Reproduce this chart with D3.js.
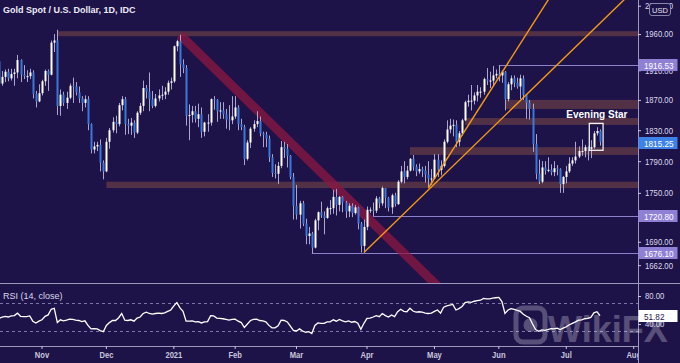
<!DOCTYPE html>
<html>
<head>
<meta charset="utf-8">
<script src="https://cdn.jsdelivr.net/npm/d3@7"></script>
<style>
  body { margin: 0; background: #1e1349; }
  svg { display: block; }
  .axis text { font-family: "Liberation Sans", Arial, sans-serif; }
</style>
</head>
<body>
<div id="chart"></div>
<script>
/* DATA: daily candles [open, high, low, close], one array per month */
const oct2020 = [[1922,1925,1887,1892],[1892,1909,1889,1901],[1901,1911,1894,1908],[1908,1912,1895,1899],[1899,1912,1896,1905],[1905,1912,1889,1907],[1907,1931,1899,1924],[1924,1925,1894,1904],[1904,1917,1898,1902],[1902,1910,1894,1902],[1902,1912,1898,1907],[1907,1910,1872,1878],[1878,1882,1860,1868],[1868,1891,1867,1879]];
const nov2020 = [[1879,1897,1876,1895],[1895,1911,1889,1909],[1909,1911,1882,1904],[1904,1951,1903,1948],[1948,1960,1935,1951],[1951,1966,1850,1862],[1862,1884,1849,1877],[1877,1881,1862,1866],[1866,1881,1858,1873],[1873,1892,1871,1889],[1889,1900,1866,1888],[1888,1894,1876,1880],[1880,1888,1866,1872],[1872,1875,1855,1866],[1866,1876,1860,1871],[1871,1875,1830,1838],[1838,1839,1800,1805],[1805,1815,1800,1809],[1809,1815,1803,1811],[1811,1818,1777,1788],[1788,1791,1767,1777]];
const dec2020 = [[1777,1820,1776,1815],[1815,1833,1806,1830],[1830,1847,1827,1841],[1841,1849,1826,1838],[1838,1866,1835,1863],[1863,1875,1856,1871],[1871,1874,1824,1838],[1838,1845,1825,1836],[1836,1846,1824,1840],[1840,1843,1820,1827],[1827,1855,1825,1853],[1853,1866,1850,1862],[1862,1896,1855,1886],[1886,1890,1872,1881],[1881,1907,1855,1871],[1871,1882,1859,1862],[1862,1878,1860,1872],[1872,1884,1868,1876],[1876,1889,1870,1877],[1877,1887,1871,1881],[1881,1896,1877,1893],[1893,1900,1884,1895]];
const jan2021 = [[1895,1944,1893,1943],[1943,1952,1936,1950],[1950,1959,1901,1918],[1918,1925,1906,1913],[1913,1917,1836,1849],[1849,1864,1817,1850],[1850,1862,1840,1855],[1855,1862,1840,1845],[1845,1865,1834,1851],[1851,1860,1820,1828],[1828,1841,1822,1840],[1840,1851,1828,1840],[1840,1872,1836,1871],[1871,1875,1857,1870],[1870,1871,1841,1855],[1855,1867,1845,1856],[1856,1867,1845,1851],[1851,1858,1832,1844],[1844,1863,1830,1843],[1843,1875,1838,1848]];
const feb2021 = [[1848,1875,1845,1860],[1860,1863,1830,1838],[1838,1845,1830,1834],[1834,1837,1785,1793],[1793,1817,1791,1814],[1814,1834,1807,1832],[1832,1843,1828,1838],[1838,1855,1834,1842],[1842,1848,1822,1826],[1826,1828,1808,1824],[1824,1828,1808,1819],[1819,1823,1789,1795],[1795,1799,1770,1775],[1775,1786,1768,1774],[1774,1789,1761,1784],[1784,1816,1781,1808],[1808,1815,1794,1806],[1806,1812,1782,1797],[1797,1798,1767,1770],[1770,1775,1717,1734]];
const mar2021 = [[1734,1760,1717,1723],[1723,1740,1706,1737],[1737,1740,1709,1712],[1712,1718,1687,1697],[1697,1708,1687,1700],[1700,1702,1676,1683],[1683,1718,1682,1716],[1716,1727,1704,1726],[1726,1739,1719,1722],[1722,1727,1699,1719],[1719,1733,1718,1731],[1731,1741,1723,1731],[1731,1754,1724,1745],[1745,1755,1722,1735],[1735,1746,1727,1745],[1745,1746,1726,1738],[1738,1740,1719,1727],[1727,1737,1720,1734],[1734,1737,1720,1725],[1725,1735,1723,1732],[1732,1733,1705,1712],[1712,1714,1677,1685],[1685,1717,1677,1708]];
const apr2021 = [[1708,1733,1704,1729],[1729,1732,1725,1729],[1729,1738,1721,1728],[1728,1746,1725,1743],[1743,1745,1731,1737],[1737,1758,1734,1756],[1756,1756,1731,1744],[1744,1745,1727,1732],[1732,1749,1724,1747],[1747,1750,1733,1736],[1736,1766,1735,1764],[1764,1784,1762,1777],[1777,1790,1762,1770],[1770,1784,1767,1778],[1778,1794,1777,1793],[1793,1798,1778,1783],[1783,1786,1771,1777],[1777,1787,1774,1780],[1780,1783,1770,1778],[1778,1784,1763,1773],[1773,1790,1756,1768],[1768,1780,1760,1768]];
const may2021 = [[1768,1799,1767,1792],[1792,1799,1770,1779],[1779,1791,1772,1784],[1784,1818,1782,1815],[1815,1843,1813,1831],[1831,1845,1826,1836],[1836,1844,1822,1837],[1837,1843,1808,1815],[1815,1829,1809,1826],[1826,1845,1823,1843],[1843,1869,1842,1867],[1867,1877,1861,1869],[1869,1890,1856,1869],[1869,1880,1864,1876],[1876,1890,1868,1881],[1881,1887,1873,1881],[1881,1900,1877,1898],[1898,1913,1890,1896],[1896,1908,1886,1896],[1896,1916,1889,1903],[1903,1911,1899,1905]];
const jun2021 = [[1905,1917,1895,1903],[1903,1910,1893,1908],[1908,1909,1856,1871],[1871,1894,1868,1891],[1891,1903,1883,1899],[1899,1903,1887,1893],[1893,1900,1885,1888],[1888,1904,1871,1899],[1899,1903,1870,1877],[1877,1878,1845,1866],[1866,1870,1844,1858],[1858,1865,1802,1812],[1812,1825,1767,1774],[1774,1792,1761,1764],[1764,1790,1762,1782],[1782,1790,1773,1778],[1778,1795,1776,1779],[1779,1786,1772,1776],[1776,1790,1771,1781],[1781,1785,1772,1780],[1780,1781,1750,1761],[1761,1771,1750,1770]];
const jul2021 = [[1770,1784,1762,1777],[1777,1795,1775,1787],[1787,1795,1784,1791],[1791,1815,1787,1796],[1796,1809,1794,1803],[1803,1818,1797,1803],[1803,1811,1795,1808],[1808,1809,1791,1806],[1806,1817,1794,1808],[1808,1829,1806,1826],[1826,1834,1823,1829],[1829,1831,1810,1815]];

// RSI (14, close), one value per candle
const rsi14 = [
  48, 50, 51, 50, 51.5, 52, 55.5, 51, 50.5, 50.5, 51.5, 44, 41.5, 44,
  46, 51, 53, 61, 62.5, 42, 46, 44.5, 45.5, 47, 46.5, 45.5, 45, 43.5, 44.5, 38, 33, 33.5, 33, 30.5, 29,
  38, 42, 45, 45, 49, 55, 45.5, 45, 46, 44, 48.5, 50, 55, 57, 55, 54, 55, 55.5, 55, 56, 58, 60,
  66, 70.5, 63, 58, 44, 44, 44.5, 43, 43.5, 41.5, 43, 43.5, 52, 51.5, 48.5, 48, 47.5, 46.5, 45.5, 46.5,
  47, 44, 42, 35, 40, 45, 46.5, 47, 45, 44.5, 43, 38, 34.5, 34.5, 37.5, 45.5, 45, 43, 37, 31,
  30, 33, 30, 28, 29, 26.5, 38, 41.5, 41, 41, 43, 43, 46, 44, 46.5, 44.5, 43, 44.5, 42.5, 43.5, 41, 32.5, 41,
  48, 48.5, 50, 52, 50.5, 55, 52, 50, 53, 50.5, 57.5, 61, 58, 57.5, 62.5, 58.5, 57, 57.5, 57, 55.5, 55, 55.5,
  58, 60, 55.5, 64, 66, 67, 68, 60, 62, 65, 70.5, 71.5, 71, 72.5, 73.5, 74, 76.5, 76, 76, 77, 77.5,
  78, 72, 55, 60, 62, 61, 59.5, 58, 54, 51, 49, 40, 32, 29.5, 31.5, 31, 32, 33.5, 33, 34, 32, 34,
  36, 39, 41, 43, 45.5, 46, 47.5, 48, 49.5, 56, 57.5, 51.82
];

const firstDay = "2020-10-13";
const holidays = ["2020-12-25", "2021-01-01"];
const monthLabels = ["Nov", "Dec", "2021", "Feb", "Mar", "Apr", "May", "Jun", "Jul", "Aug"];
const priceTicks = [2000, 1960, 1910, 1870, 1830, 1790, 1750, 1690, 1662];
const rsiTicks = [80, 40];
const rsiBands = [70, 30];

// support / resistance zones [start date, low, high]
const zones = [
  ["2020-11-09", 1957, 1964],
  ["2021-06-03", 1858, 1870],
  ["2021-05-17", 1837, 1846],
  ["2021-04-21", 1798, 1808],
  ["2020-12-01", 1756, 1764]
];
// price levels [start date, price]
const levels = [["2021-06-01", 1916.53], ["2021-04-05", 1720.80], ["2021-03-08", 1676.10]];
const lastPrice = 1815.25;
// trend lines [[date, price], [date, price]]
const downTrend = [["2021-01-06", 1959], ["2021-04-29", 1648]];
const upTrends = [
  [["2021-03-31", 1677], ["2021-06-15", 1881]],
  [["2021-04-29", 1756], ["2021-06-04", 1920]]
];
const patternBox = { from: "2021-07-14", to: "2021-07-16", low: 1804, high: 1839, label: "Evening Star" };

/* LAYOUT */
const width = 680, height = 363;
const plotW = 638, priceH = 283, rsiTop = 284, rsiBottom = 346;
const step = 3.066;
const bg = "#1e1349", upColor = "#ffffff", downColor = "#3a78dc", wickColor = "#aaa6cf";

const fmt = d3.utcFormat("%Y-%m-%d"), parse = d3.utcParse("%Y-%m-%d");
const days = d3.utcDay.range(parse(firstDay), parse("2021-08-12"))
  .filter(d => d.getUTCDay() % 6 !== 0 && !holidays.includes(fmt(d)))
  .map(fmt);

const ohlc = [].concat(oct2020, nov2020, dec2020, jan2021, feb2021, mar2021, apr2021, may2021, jun2021, jul2021);
const candles = ohlc.map((d, i) => ({ date: days[i], o: d[0], h: d[1], l: d[2], c: d[3], rsi: rsi14[i] }));

const x0 = 42 - 14.5 * step;
const x = d3.scaleBand().domain(days).range([x0, x0 + days.length * step]);
const cx = d => x(d) + x.bandwidth() / 2;
const y = d3.scaleLog().domain([1641, 2008.2]).range([priceH, 0]);
const yR = d3.scaleLinear().domain([0, 100]).range([352, 282]);

const monthStarts = days.filter((d, i) => i > 0 && d.slice(5, 7) !== days[i - 1].slice(5, 7)).slice(0, monthLabels.length);

const svg = d3.select("#chart").append("svg")
  .attr("width", width).attr("height", height);

svg.append("rect").attr("width", width).attr("height", height).attr("fill", bg);

const defs = svg.append("defs");
defs.append("clipPath").attr("id", "clipPrice").append("rect")
  .attr("width", plotW).attr("height", priceH);
defs.append("clipPath").attr("id", "clipRsi").append("rect")
  .attr("y", rsiTop).attr("width", plotW).attr("height", rsiBottom - rsiTop);
defs.append("clipPath").attr("id", "clipX").append("rect")
  .attr("y", rsiBottom).attr("width", plotW).attr("height", height - rsiBottom);

// squeeze text horizontally, the chart uses a narrow face
function narrow(sel, k) {
  sel.each(function () {
    const w = this.getComputedTextLength();
    d3.select(this).attr("textLength", w * k).attr("lengthAdjust", "spacingAndGlyphs");
  });
}

/* PRICE PANEL */
const price = svg.append("g").attr("clip-path", "url(#clipPrice)");

price.selectAll("rect.zone")
  .data(zones)
  .join("rect")
  .attr("class", "zone")
  .attr("x", d => cx(d[0]))
  .attr("width", d => plotW - cx(d[0]))
  .attr("y", d => y(d[2]))
  .attr("height", d => y(d[1]) - y(d[2]))
  .attr("fill", "#583547")
  .attr("opacity", 0.9);

price.selectAll("line.level")
  .data(levels)
  .join("line")
  .attr("class", "level")
  .attr("x1", d => cx(d[0])).attr("x2", plotW)
  .attr("y1", d => Math.round(y(d[1])) + 0.5).attr("y2", d => Math.round(y(d[1])) + 0.5)
  .attr("stroke", "#8c82cc")
  .attr("stroke-width", 1);

// extend a two-point line to the right edge
function trendPath(p) {
  const xa = cx(p[0][0]), ya = y(p[0][1]), xb = cx(p[1][0]), yb = y(p[1][1]);
  const k = (yb - ya) / (xb - xa);
  const xEnd = plotW + 60;
  return `M${xa},${ya}L${xEnd},${ya + k * (xEnd - xa)}`;
}

price.append("path")
  .attr("d", trendPath(downTrend))
  .attr("stroke", "#8e1742")
  .attr("stroke-opacity", 0.75)
  .attr("stroke-width", 9)
  .attr("fill", "none");

const candleG = price.selectAll("g.candle")
  .data(candles)
  .join("g")
  .attr("class", "candle");

candleG.append("line")
  .attr("x1", d => Math.round(cx(d.date)) + 0.5).attr("x2", d => Math.round(cx(d.date)) + 0.5)
  .attr("y1", d => y(d.h)).attr("y2", d => y(d.l))
  .attr("stroke", wickColor).attr("stroke-width", 1);

candleG.append("rect")
  .attr("x", d => Math.round(cx(d.date)) - 0.5)
  .attr("width", 2)
  .attr("y", d => y(Math.max(d.o, d.c)))
  .attr("height", d => Math.max(1, Math.abs(y(d.o) - y(d.c))))
  .attr("fill", d => d.c >= d.o ? upColor : downColor);

price.selectAll("path.up")
  .data(upTrends)
  .join("path")
  .attr("class", "up")
  .attr("d", trendPath)
  .attr("stroke", "#f59a12")
  .attr("stroke-width", 1.4)
  .attr("fill", "none");

price.append("rect")
  .attr("x", cx(patternBox.from) - 1.5 * step)
  .attr("width", cx(patternBox.to) - cx(patternBox.from) + 2.5 * step)
  .attr("y", y(patternBox.high))
  .attr("height", y(patternBox.low) - y(patternBox.high))
  .attr("fill", "none")
  .attr("stroke", "#ffffff")
  .attr("stroke-width", 1.2);

price.append("text")
  .attr("x", cx(patternBox.from) - 9 * step)
  .attr("y", y(patternBox.high) - 5)
  .attr("fill", "#ffffff")
  .style("font-family", "'Liberation Sans', Arial, sans-serif")
  .style("font-weight", "bold")
  .style("font-size", "10px")
  .text(patternBox.label);

/* RSI PANEL */
const rsiG = svg.append("g").attr("clip-path", "url(#clipRsi)");
rsiG.selectAll("line.band")
  .data(rsiBands)
  .join("line")
  .attr("class", "band")
  .attr("x1", 0).attr("x2", plotW)
  .attr("y1", d => Math.round(yR(d)) + 0.5).attr("y2", d => Math.round(yR(d)) + 0.5)
  .attr("stroke", "#7b77a6")
  .attr("stroke-dasharray", "3,3");

rsiG.append("path")
  .datum(candles)
  .attr("d", d3.line().x(d => cx(d.date)).y(d => yR(d.rsi)))
  .attr("fill", "none")
  .attr("stroke", "#ffffff")
  .attr("stroke-width", 1.3);

svg.append("text")
  .attr("x", 3).attr("y", 299)
  .attr("fill", "#d8d6ea")
  .style("font-family", "'Liberation Sans', Arial, sans-serif")
  .style("font-size", "9px")
  .text("RSI (14, close)");

/* FRAME LINES */
const frame = "#9a98bb";
svg.append("line").attr("x1", 0).attr("x2", width).attr("y1", 283.5).attr("y2", 283.5).attr("stroke", frame);
svg.append("line").attr("x1", 0).attr("x2", plotW).attr("y1", rsiBottom + 0.5).attr("y2", rsiBottom + 0.5).attr("stroke", frame);
svg.append("line").attr("x1", plotW + 0.5).attr("x2", plotW + 0.5).attr("y1", 0).attr("y2", height).attr("stroke", frame);

/* WATERMARK */
const wm = svg.append("g").attr("opacity", 0.26);
wm.append("rect").attr("x", 516).attr("y", 308).attr("width", 29).attr("height", 34).attr("rx", 7)
  .attr("fill", "none").attr("stroke", "#ffffff").attr("stroke-width", 5);
wm.append("circle").attr("cx", 530.5).attr("cy", 325).attr("r", 7).attr("fill", "#ffffff");
wm.append("text").attr("x", 548).attr("y", 342)
  .attr("fill", "#ffffff")
  .style("font-family", "'Liberation Sans', Arial, sans-serif")
  .style("font-weight", "bold").style("font-size", "36px")
  .text("WikiFX");

/* AXES */
const axisY = svg.append("g")
  .attr("class", "axis")
  .attr("transform", `translate(${plotW},0)`)
  .call(d3.axisRight(y).tickValues(priceTicks).tickFormat(d3.format(".2f")).tickSize(3).tickPadding(4));

const axisR = svg.append("g")
  .attr("class", "axis")
  .attr("transform", `translate(${plotW},0)`)
  .call(d3.axisRight(yR).tickValues(rsiTicks).tickFormat(d3.format(".2f")).tickSize(3).tickPadding(4));

const axisX = svg.append("g")
  .attr("clip-path", "url(#clipX)")
  .append("g")
  .attr("class", "axis")
  .attr("transform", `translate(0,${rsiBottom})`)
  .call(d3.axisBottom(x).tickValues(monthStarts).tickFormat((d, i) => monthLabels[i]).tickSize(3).tickPadding(3));

[axisY, axisR, axisX].forEach(g => {
  g.select(".domain").remove();
  g.selectAll(".tick line").attr("stroke", "#c9c7dd");
  g.selectAll(".tick text").attr("fill", "#dcdaec").style("font-size", "9px");
});
axisX.selectAll(".tick text").style("font-weight", "bold").attr("fill", "#c9c7dd");
narrow(axisY.selectAll(".tick text"), 0.86);
narrow(axisR.selectAll(".tick text"), 0.86);
narrow(axisX.selectAll(".tick text"), 0.84);

/* PRICE TAGS */
function tag(val, yy, fill, color) {
  const g = svg.append("g").attr("transform", `translate(${plotW},${Math.round(yy)})`);
  g.append("rect").attr("x", 0.5).attr("y", -6).attr("width", 39).attr("height", 12).attr("fill", fill);
  g.append("text").attr("x", 6).attr("y", 3.5).attr("fill", color)
    .style("font-family", "'Liberation Sans', Arial, sans-serif")
    .style("font-size", "9.5px").text(d3.format(".2f")(val))
    .call(narrow, 0.86);
}
levels.forEach(l => tag(l[1], y(l[1]), "#8f80d6", "#ffffff"));
tag(lastPrice, y(lastPrice) + 1, "#3d82e6", "#ffffff");
tag(rsi14[rsi14.length - 1], yR(rsi14[rsi14.length - 1]), "#ffffff", "#1e1349");

// USD badge
svg.append("rect").attr("x", 649.5).attr("y", 3.5).attr("width", 21).attr("height", 12).attr("rx", 2.5)
  .attr("fill", "#1e1349").attr("stroke", "#8886aa");
svg.append("text").attr("x", 660).attr("y", 12.5).attr("text-anchor", "middle")
  .attr("fill", "#e6e4f2")
  .style("font-family", "'Liberation Sans', Arial, sans-serif").style("font-size", "7.5px")
  .text("USD");

/* TITLE */
svg.append("text")
  .attr("x", 3).attr("y", 13)
  .attr("fill", "#ecebf5")
  .style("font-family", "'Liberation Sans', Arial, sans-serif")
  .style("font-weight", "bold")
  .style("font-size", "9px")
  .text("Gold Spot / U.S. Dollar, 1D, IDC");
</script>
</body>
</html>
